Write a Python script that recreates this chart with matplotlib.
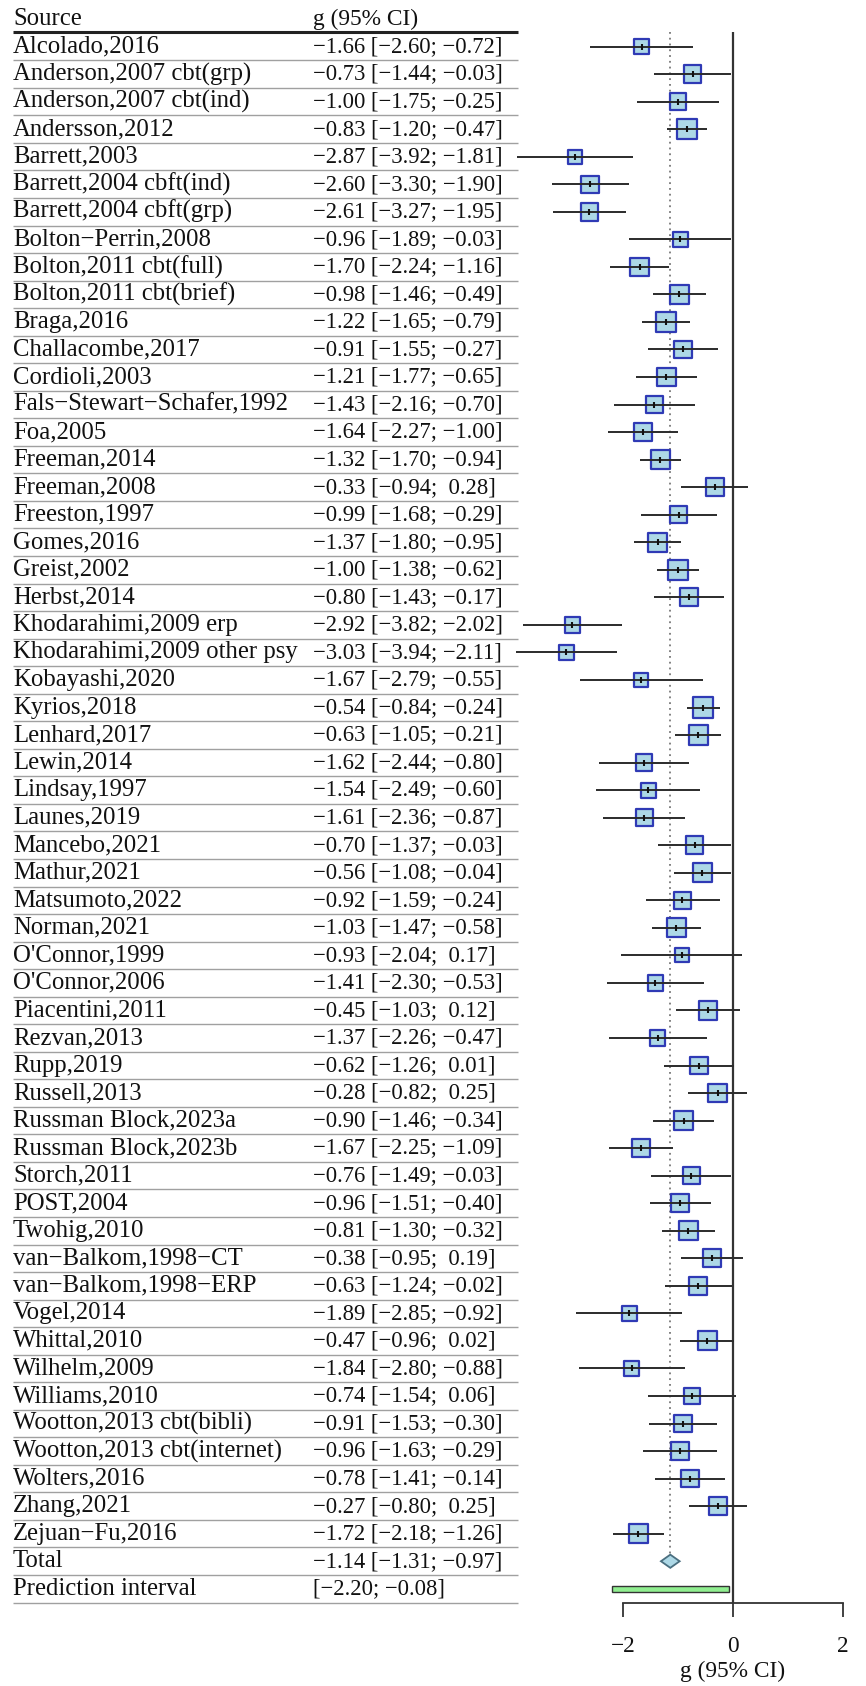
import numpy as np
import matplotlib.pyplot as plt

plt.rcParams['font.family'] = ['Liberation Serif', 'DejaVu Serif']

# study data
studies = [
    'Alcolado,2016', 'Anderson,2007 cbt(grp)', 'Anderson,2007 cbt(ind)', 'Andersson,2012',
    'Barrett,2003', 'Barrett,2004 cbft(ind)', 'Barrett,2004 cbft(grp)', 'Bolton−Perrin,2008',
    'Bolton,2011 cbt(full)', 'Bolton,2011 cbt(brief)', 'Braga,2016', 'Challacombe,2017',
    'Cordioli,2003', 'Fals−Stewart−Schafer,1992', 'Foa,2005', 'Freeman,2014', 'Freeman,2008',
    'Freeston,1997', 'Gomes,2016', 'Greist,2002', 'Herbst,2014', 'Khodarahimi,2009 erp',
    'Khodarahimi,2009 other psy', 'Kobayashi,2020', 'Kyrios,2018', 'Lenhard,2017', 'Lewin,2014',
    'Lindsay,1997', 'Launes,2019', 'Mancebo,2021', 'Mathur,2021', 'Matsumoto,2022', 'Norman,2021',
    "O'Connor,1999", "O'Connor,2006", 'Piacentini,2011', 'Rezvan,2013', 'Rupp,2019', 'Russell,2013',
    'Russman Block,2023a', 'Russman Block,2023b', 'Storch,2011', 'POST,2004', 'Twohig,2010',
    'van−Balkom,1998−CT', 'van−Balkom,1998−ERP', 'Vogel,2014', 'Whittal,2010', 'Wilhelm,2009',
    'Williams,2010', 'Wootton,2013 cbt(bibli)', 'Wootton,2013 cbt(internet)', 'Wolters,2016',
    'Zhang,2021', 'Zejuan−Fu,2016']
g = [-1.66, -0.73, -1.00, -0.83, -2.87, -2.60, -2.61, -0.96, -1.70, -0.98, -1.22, -0.91,
     -1.21, -1.43, -1.64, -1.32, -0.33, -0.99, -1.37, -1.00, -0.80, -2.92, -3.03, -1.67,
     -0.54, -0.63, -1.62, -1.54, -1.61, -0.70, -0.56, -0.92, -1.03, -0.93, -1.41, -0.45,
     -1.37, -0.62, -0.28, -0.90, -1.67, -0.76, -0.96, -0.81, -0.38, -0.63, -1.89, -0.47,
     -1.84, -0.74, -0.91, -0.96, -0.78, -0.27, -1.72]
lo = [-2.60, -1.44, -1.75, -1.20, -3.92, -3.30, -3.27, -1.89, -2.24, -1.46, -1.65, -1.55,
      -1.77, -2.16, -2.27, -1.70, -0.94, -1.68, -1.80, -1.38, -1.43, -3.82, -3.94, -2.79,
      -0.84, -1.05, -2.44, -2.49, -2.36, -1.37, -1.08, -1.59, -1.47, -2.04, -2.30, -1.03,
      -2.26, -1.26, -0.82, -1.46, -2.25, -1.49, -1.51, -1.30, -0.95, -1.24, -2.85, -0.96,
      -2.80, -1.54, -1.53, -1.63, -1.41, -0.80, -2.18]
hi = [-0.72, -0.03, -0.25, -0.47, -1.81, -1.90, -1.95, -0.03, -1.16, -0.49, -0.79, -0.27,
      -0.65, -0.70, -1.00, -0.94, 0.28, -0.29, -0.95, -0.62, -0.17, -2.02, -2.11, -0.55,
      -0.24, -0.21, -0.80, -0.60, -0.87, -0.03, -0.04, -0.24, -0.58, 0.17, -0.53, 0.12,
      -0.47, 0.01, 0.25, -0.34, -1.09, -0.03, -0.40, -0.32, 0.19, -0.02, -0.92, 0.02,
      -0.88, 0.06, -0.30, -0.29, -0.14, 0.25, -1.26]
total = (-1.14, -1.31, -0.97)
pred_int = (-2.20, -0.08)
tau2 = 0.3  # between-study variance used for the square weights

g = np.array(g); lo = np.array(lo); hi = np.array(hi)
n = len(studies)

def fmt(v):
    return f'{v:5.2f}'.replace('-', '−')

W, H = 866, 1686
row0, step = 19, 27.54
ylim = ((H - row0) / step, -row0 / step)

fig = plt.figure(figsize=(W / 100, H / 100), dpi=100)
txt_col = '#111111'
fs_name = 17.8   # study names
fs_num = 16.3    # estimate column
fs = 16.8        # headers / axis

# ---- table on the left
ax_t = fig.add_axes([0, 0, 520 / W, 1])
ax_t.set_xlim(0, 520)
ax_t.set_ylim(ylim)
ax_t.axis('off')
ax_t.patch.set_alpha(0)

rows = np.arange(1, n + 1)
ax_t.text(13, 0, 'Source', fontsize=fs_name, va='center', color=txt_col)
ax_t.text(313, 0, 'g (95% CI)', fontsize=fs, va='center', color=txt_col)
for r, name, a, b, c in zip(rows, studies, g, lo, hi):
    ax_t.text(13, r, name, fontsize=fs_name, va='center', color=txt_col)
    ax_t.text(313, r, f'{fmt(a)} [{fmt(b)}; {fmt(c)}]', fontsize=fs_num, va='center',
              color=txt_col)
ax_t.text(13, n + 1, 'Total', fontsize=fs_name, va='center', color=txt_col)
ax_t.text(313, n + 1, f'{fmt(total[0])} [{fmt(total[1])}; {fmt(total[2])}]',
          fontsize=fs_num, va='center', color=txt_col)
ax_t.text(13, n + 2, 'Prediction interval', fontsize=fs_name, va='center', color=txt_col)
ax_t.text(313, n + 2, f'[{fmt(pred_int[0])}; {fmt(pred_int[1])}]',
          fontsize=fs_num, va='center', color=txt_col)

ax_t.hlines(0.48, 13, 518, color='#222222', lw=2.2)
ax_t.hlines(np.arange(1, n + 3) + 0.5, 13, 518, color='#a0a0a0', lw=1.0)

# ---- forest plot on the right
ax = fig.add_axes([500 / W, 0, 366 / W, 1])
ax.set_xlim((500 - 733) / 55, (866 - 733) / 55)
ax.set_ylim(ylim)
ax.patch.set_alpha(0)
for s in ['top', 'left', 'right']:
    ax.spines[s].set_visible(False)
ax.set_yticks([])

axis_y = 57.52
ax.vlines(0, 0.47, axis_y, color='#333333', lw=1.6)
ax.vlines(total[0], 0.47, n + 1 - 0.24, color='#777777', lw=1.3, linestyles=(0, (1, 2.2)))

se = (hi - lo) / (2 * 1.96)
side_px = 12.7 * np.sqrt(1 / (se ** 2 + tau2)) - 2.2
ax.scatter(g, rows, marker='s', s=(side_px * 0.72) ** 2, facecolor='#add8e6',
           edgecolor='#2f3ab5', linewidth=1.6, zorder=3)
# CI lines run over the squares, as in the original
ax.hlines(rows, lo, hi, color='#2b2b2b', lw=1.4, zorder=4)
ax.plot(g, rows, ls='none', marker='|', ms=4.5, mew=1.5, color='#111111', zorder=5)

# pooled estimate diamond
dh = 0.24
ax.fill([total[1], total[0], total[2], total[0]],
        [n + 1, n + 1 - dh, n + 1, n + 1 + dh],
        facecolor='#add8e6', edgecolor='#4a6f80', lw=1.3, zorder=3)
# prediction interval bar
ax.barh(n + 2, pred_int[1] - pred_int[0], left=pred_int[0], height=0.22,
        facecolor='#90ee90', edgecolor='#333333', lw=1.0, zorder=3)

ax.spines['bottom'].set_position(('data', axis_y))
ax.spines['bottom'].set_bounds(-2, 2)
ax.spines['bottom'].set_color('#333333')
ax.spines['bottom'].set_linewidth(1.3)
ax.set_xticks([-2, 0, 2])
ax.tick_params(axis='x', direction='out', length=10, width=1.3, color='#333333',
               labelsize=fs, labelcolor=txt_col, pad=14)
ax.text(0, (1671 - row0) / step, 'g (95% CI)', fontsize=fs, ha='center', va='center',
        color=txt_col)

fig.savefig('out.png', dpi=100)
